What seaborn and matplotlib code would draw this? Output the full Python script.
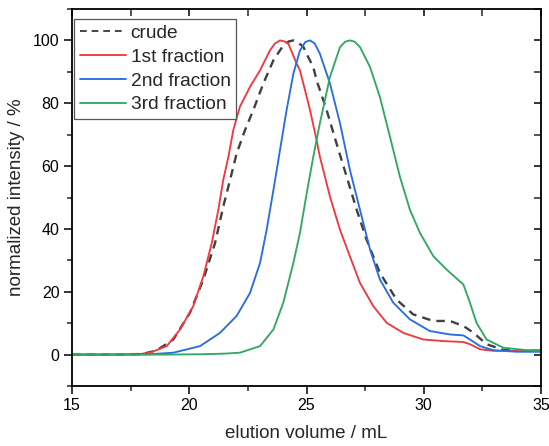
import numpy as np
import pandas as pd
import matplotlib
matplotlib.use("Agg")
import matplotlib.pyplot as plt
import seaborn as sns
from matplotlib.ticker import MultipleLocator

# ---- data ----
crude_x = [15.0, 17.0, 18.0, 18.6, 19.32, 20.03, 20.6, 21.1, 21.45, 21.74, 22.02, 22.38, 22.73,
           23.16, 23.59, 24.01, 24.25, 24.44, 24.65, 24.87, 25.0, 25.29, 25.43, 25.86, 26.28,
           26.71, 27.14, 27.56, 28.13, 28.84, 29.55, 30.41, 31.12, 31.69, 32.11, 32.68,
           33.39, 34.39, 35.0]
crude_y = [0.0, 0.0, 0.2, 1.3, 4.8, 13.3, 23.9, 35.5, 47.1, 55.6, 64.0, 71.5, 77.8,
           86.3, 93.7, 98.4, 99.7, 100.0, 99.3, 97.9, 95.8, 91.5, 87.3, 77.8, 67.2,
           56.7, 46.1, 36.6, 26.0, 17.5, 12.8, 10.7, 10.7, 9.1, 7.0, 3.3,
           1.5, 1.2, 1.2]

frac1_x = [15.0, 17.0, 17.8, 18.33, 19.04, 19.61, 20.17, 20.6, 20.96, 21.24, 21.45, 21.67,
           21.88, 22.16, 22.59, 23.02, 23.44, 23.65, 23.87, 24.05, 24.23, 24.58, 24.72,
           25.01, 25.15, 25.43, 25.57, 26.0, 26.43, 26.85, 27.28, 27.85, 28.42, 29.13,
           29.98, 30.83, 31.69, 31.97, 32.4, 32.96, 33.96, 35.0]
frac1_y = [0.0, 0.0, 0.1, 0.6, 2.7, 8.0, 15.4, 24.9, 35.5, 46.1, 55.6, 63.0,
           71.5, 78.9, 85.2, 90.5, 96.8, 99.0, 100.0, 99.7, 98.9, 92.6, 90.5,
           82.0, 77.8, 68.3, 63.0, 50.3, 39.7, 31.3, 22.8, 15.4, 10.1, 6.9,
           4.8, 4.3, 4.0, 3.3, 1.7, 1.2, 1.2, 1.4]

frac2_x = [15.0, 17.0, 18.3, 19.32, 20.46, 21.31, 22.02, 22.59, 23.02, 23.3, 23.59, 23.87,
           24.15, 24.44, 24.72, 24.95, 25.15, 25.35, 25.57, 26.0, 26.43, 26.85, 27.28,
           27.71, 28.13, 28.7, 29.41, 30.26, 31.12, 31.69, 31.97, 32.4, 32.96, 33.96, 35.0]
frac2_y = [0.0, 0.0, 0.1, 0.6, 2.7, 6.9, 12.3, 19.6, 29.2, 39.7, 52.4, 65.1,
           77.8, 89.4, 96.8, 99.5, 100.0, 99.0, 95.8, 86.3, 73.6, 58.8, 46.1,
           33.4, 23.9, 16.5, 11.2, 7.5, 6.4, 6.1, 4.8, 2.7, 1.4, 0.9, 0.9]

frac3_x = [15.0, 19.0, 20.5, 21.5, 22.16, 23.02, 23.59, 24.01, 24.44, 24.72, 25.01, 25.29,
           25.57, 26.0, 26.43, 26.65, 26.85, 27.05, 27.28, 27.71, 28.13, 28.56, 28.98,
           29.41, 29.84, 30.41, 30.97, 31.69, 31.97, 32.25, 32.68, 33.39, 34.39, 35.0]
frac3_y = [0.0, 0.0, 0.1, 0.3, 0.6, 2.7, 8.0, 16.5, 29.2, 38.7, 51.4, 63.0,
           73.6, 88.4, 97.9, 99.6, 100.0, 99.6, 97.9, 91.5, 82.0, 69.3, 56.7,
           46.1, 38.7, 31.3, 27.1, 22.3, 16.5, 10.1, 4.8, 2.2, 1.4, 1.2]

labels = ["crude", "1st fraction", "2nd fraction", "3rd fraction"]
colors = ["#404040", "#EE3A42", "#2A6EE0", "#34A862"]
x_ticks = [15, 20, 25, 30, 35]
y_ticks = [0, 20, 40, 60, 80, 100]

frames = []
for lab, xs, ys in zip(labels, [crude_x, frac1_x, frac2_x, frac3_x],
                       [crude_y, frac1_y, frac2_y, frac3_y]):
    frames.append(pd.DataFrame({"x": xs, "y": ys, "series": lab}))
df = pd.concat(frames, ignore_index=True)

sns.set_style("ticks")
plt.rcParams["font.family"] = ["Liberation Sans", "DejaVu Sans"]

fig = plt.figure(figsize=(5.49, 4.46), dpi=100)
ax = fig.add_axes([72 / 549, 60 / 446, 469 / 549, 377 / 446])

for lab, col in zip(labels, colors):
    sub = df[df["series"] == lab]
    if lab == "crude":
        ls, lw = (0, (3.6, 2.6)), 1.7
    else:
        ls, lw = "-", 1.35
    sns.lineplot(data=sub, x="x", y="y", ax=ax, color=col, linewidth=lw,
                 linestyle=ls, label=lab, sort=False, estimator=None)

ax.set_xlim(15, 35)
ax.set_ylim(-10, 110)
ax.set_xticks(x_ticks)
ax.set_yticks(y_ticks)
ax.xaxis.set_minor_locator(MultipleLocator(2.5))
ax.yaxis.set_minor_locator(MultipleLocator(10))
ax.tick_params(axis="both", which="major", direction="out", length=6, width=1.1,
               labelsize=11.5, colors="black", pad=3)
ax.tick_params(axis="both", which="minor", direction="out", length=3.5, width=1.1)
ax.tick_params(axis="both", which="both", top=True, right=True)
# top/right ticks inward
for t in ax.xaxis.get_major_ticks() + ax.xaxis.get_minor_ticks():
    t.tick2line.set_marker(matplotlib.lines.TICKDOWN)
    t.tick2line.set_markersize(5)
for t in ax.yaxis.get_major_ticks() + ax.yaxis.get_minor_ticks():
    t.tick2line.set_marker(matplotlib.lines.TICKLEFT)
    t.tick2line.set_markersize(5)

for s in ax.spines.values():
    s.set_linewidth(1.3)
    s.set_color("black")

ax.set_xlabel("elution volume / mL", fontsize=13.5, labelpad=8)
ax.set_ylabel("normalized intensity / %", fontsize=13.5, labelpad=6)

leg = ax.legend(loc="upper left", fontsize=13.8, frameon=True, fancybox=False,
                edgecolor="#555555", framealpha=1, borderpad=0.3, labelspacing=0.33,
                handlelength=2.4, handletextpad=0.25, borderaxespad=0,
                bbox_to_anchor=(74 / 549, 1 - 19 / 446), bbox_transform=fig.transFigure)
leg.get_frame().set_linewidth(0.9)
for h in leg.get_lines():
    h.set_linewidth(1.35)

fig.savefig("out.png", dpi=100)
